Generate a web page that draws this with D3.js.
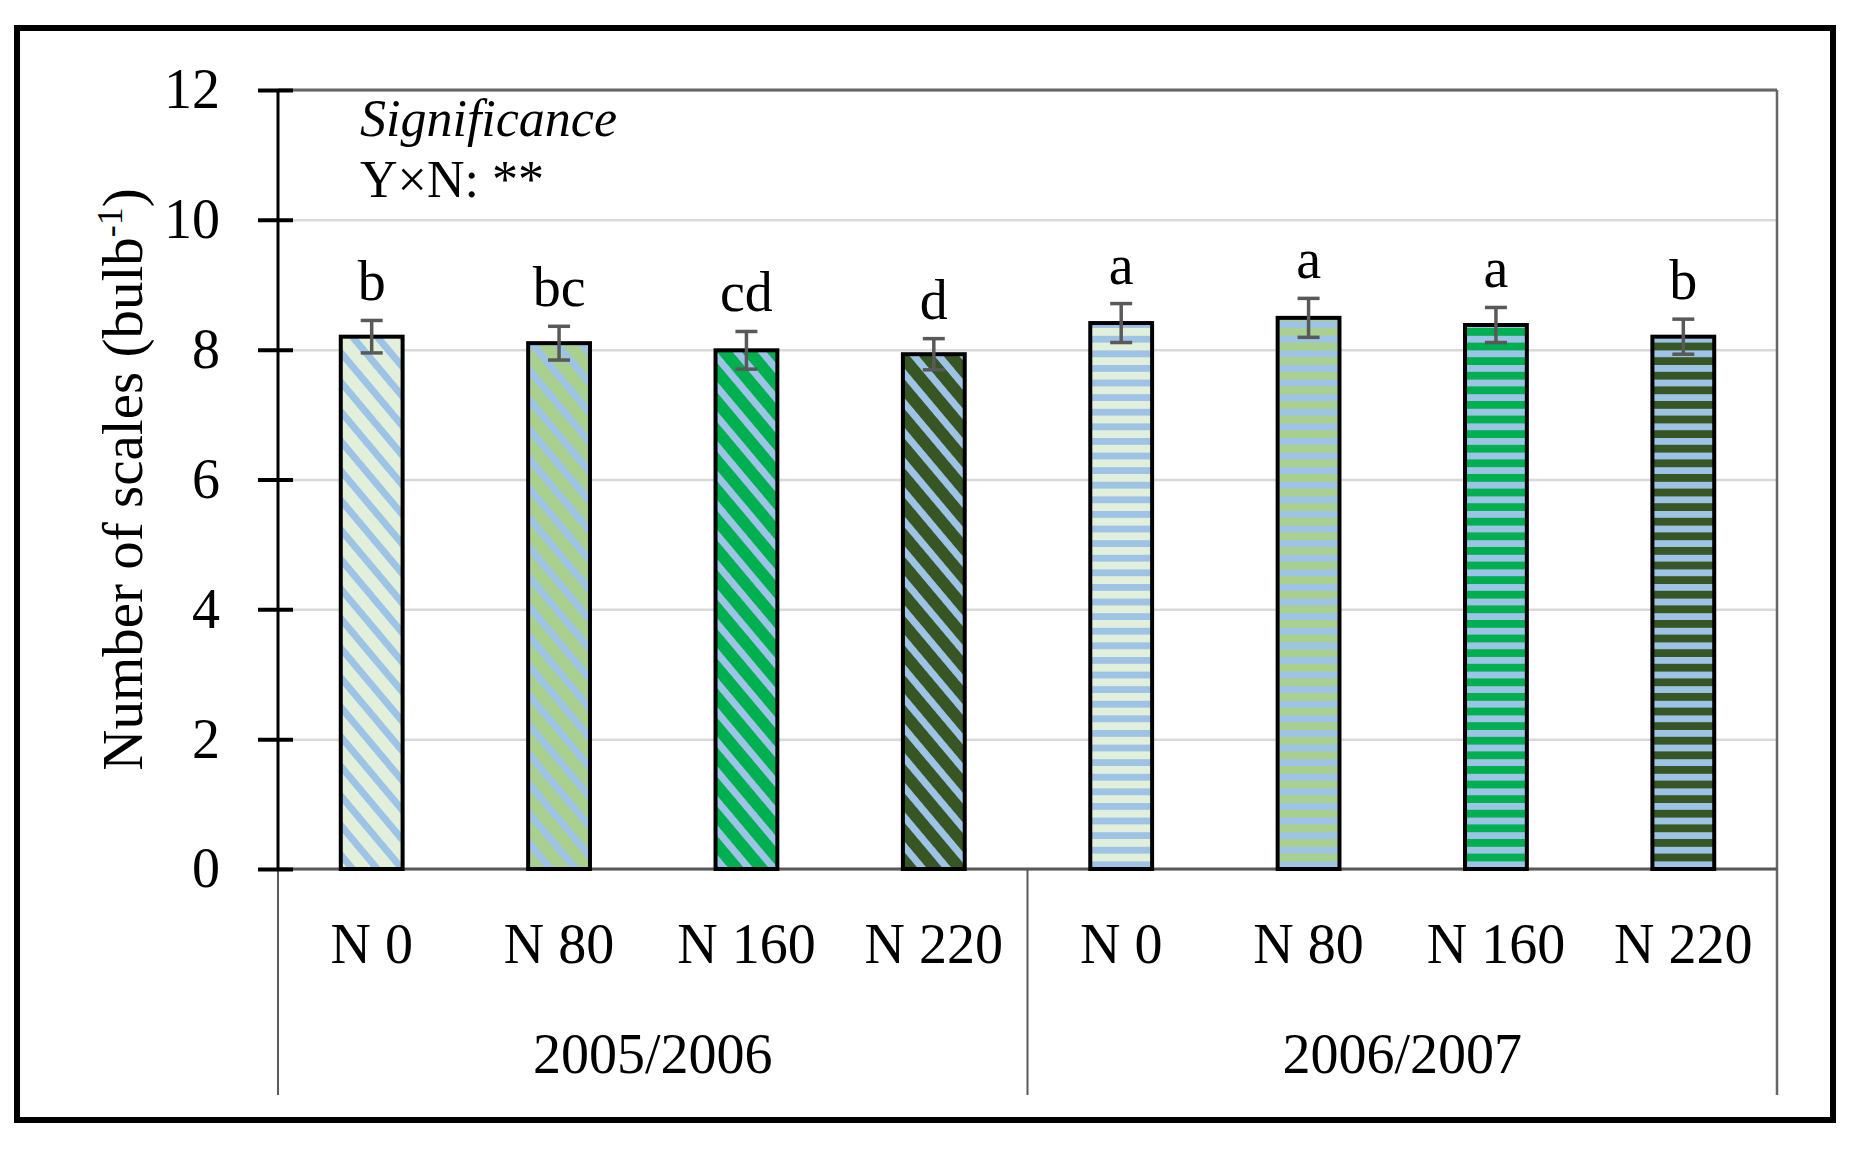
<!DOCTYPE html>
<meta charset="utf-8">
<head>
    <title>Number of scales</title>
    <script src="https://cdn.jsdelivr.net/npm/d3@7/dist/d3.min.js"></script>
</head>

<style>
    body { margin: 0; background: #fff; }
    text { font-family: "Palatino Linotype", "Book Antiqua", Palatino, "Liberation Serif", serif; fill: #000; }
</style>

<svg></svg>

<script>
    var vWidth = 1860;
    var vHeight = 1154;

    // data
    var years = ["2005/2006", "2006/2007"];
    var doses = ["N 0", "N 80", "N 160", "N 220"];
    var scales0506 = [8.20, 8.10, 7.99, 7.93];
    var scales0607 = [8.41, 8.49, 8.38, 8.20];
    var err0506 = [0.25, 0.26, 0.29, 0.24];
    var err0607 = [0.30, 0.30, 0.27, 0.27];
    var letters0506 = ["b", "bc", "cd", "d"];
    var letters0607 = ["a", "a", "a", "b"];
    var yTicks = [0, 2, 4, 6, 8, 10, 12];

    var doseColors = ["#E2EFDA", "#A9D08E", "#00B050", "#375623"];
    var stripeBlue = "#9DC3E6";

    var rows = [];
    years.forEach(function (yr, yi) {
        var vals = yi === 0 ? scales0506 : scales0607;
        var errs = yi === 0 ? err0506 : err0607;
        var lets = yi === 0 ? letters0506 : letters0607;
        doses.forEach(function (d, di) {
            rows.push({key: yr + "|" + d, year: yr, yi: yi, dose: d, di: di,
                value: vals[di], err: errs[di], letter: lets[di]});
        });
    });

    // physical space setup
    var svg = d3.select('svg').attr('width', vWidth).attr('height', vHeight);
    var pLeft = 278, pRight = 1777, pTop = 90, pBottom = 869, tableBottom = 1095;

    var x = d3.scaleBand().domain(rows.map(function (d) { return d.key; }))
        .range([pLeft, pRight]).paddingInner(0.67).paddingOuter(0.335);
    var step = x.step();
    var y = d3.scaleLinear().domain([0, 12]).range([pBottom, pTop]);

    // patterns: diagonal for the first season, horizontal for the second
    var defs = svg.append('defs');
    rows.forEach(function (d, i) {
        var p = defs.append('pattern').attr('id', 'pat' + i)
            .attr('patternUnits', 'userSpaceOnUse');
        if (d.yi === 0) {
            p.attr('width', 19).attr('height', 19).attr('patternTransform', 'rotate(50)');
            p.append('rect').attr('width', 19).attr('height', 19).attr('fill', doseColors[d.di]);
            p.append('rect').attr('width', 19).attr('height', 7).attr('fill', stripeBlue);
        } else {
            p.attr('width', 20).attr('height', 14.6);
            p.append('rect').attr('width', 20).attr('height', 14.6).attr('fill', doseColors[d.di]);
            p.append('rect').attr('width', 20).attr('height', 6.8).attr('fill', stripeBlue);
        }
    });

    // outer frame
    svg.append('rect').attr('x', 17).attr('y', 28).attr('width', 1816).attr('height', 1092)
        .attr('fill', 'none').attr('stroke', '#000').attr('stroke-width', 6);

    // gridlines
    svg.append('g').attr('transform', 'translate(' + pLeft + ',0)')
        .call(d3.axisLeft(y).tickValues(yTicks).tickSize(-(pRight - pLeft)).tickFormat(''))
        .call(function (g) {
            g.select('.domain').remove();
            g.selectAll('line').attr('stroke', '#d9d9d9').attr('stroke-width', 2.5);
        });

    // top and right borders, category table lines
    svg.append('line').attr('x1', pLeft).attr('x2', pRight).attr('y1', pTop).attr('y2', pTop)
        .attr('stroke', '#666').attr('stroke-width', 3);
    svg.append('line').attr('x1', pRight).attr('x2', pRight).attr('y1', pTop).attr('y2', tableBottom)
        .attr('stroke', '#666').attr('stroke-width', 2.5);
    svg.append('line').attr('x1', pLeft).attr('x2', pRight).attr('y1', pBottom).attr('y2', pBottom)
        .attr('stroke', '#595959').attr('stroke-width', 3);
    [pLeft, x(rows[4].key) - (step - x.bandwidth()) / 2].forEach(function (xx) {
        svg.append('line').attr('x1', xx).attr('x2', xx).attr('y1', pBottom).attr('y2', tableBottom)
            .attr('stroke', '#595959').attr('stroke-width', 2);
    });

    // bars
    svg.append('g').selectAll('rect').data(rows).enter().append('rect')
        .attr('x', function (d) { return x(d.key); })
        .attr('width', x.bandwidth())
        .attr('y', function (d) { return y(d.value); })
        .attr('height', function (d) { return y(0) - y(d.value); })
        .attr('fill', function (d, i) { return 'url(#pat' + i + ')'; })
        .attr('stroke', '#000').attr('stroke-width', 4);

    // error bars
    var eb = svg.append('g').attr('stroke', '#595959').attr('stroke-width', 3.5);
    rows.forEach(function (d) {
        var cx = x(d.key) + x.bandwidth() / 2;
        var y1 = y(d.value + d.err), y2 = y(d.value - d.err);
        eb.append('line').attr('x1', cx).attr('x2', cx).attr('y1', y1).attr('y2', y2);
        eb.append('line').attr('x1', cx - 11).attr('x2', cx + 11).attr('y1', y1).attr('y2', y1);
        eb.append('line').attr('x1', cx - 11).attr('x2', cx + 11).attr('y1', y2).attr('y2', y2);
    });

    // significance letters
    svg.append('g').selectAll('text').data(rows).enter().append('text')
        .attr('x', function (d) { return x(d.key) + x.bandwidth() / 2; })
        .attr('y', function (d) { return y(d.value + d.err) - 20; })
        .attr('text-anchor', 'middle').attr('font-size', 56)
        .text(function (d) { return d.letter; });

    // y axis
    svg.append('g').attr('transform', 'translate(' + pLeft + ',0)')
        .call(d3.axisLeft(y).tickValues(yTicks).tickSize(20).tickPadding(38))
        .call(function (g) {
            g.select('.domain').attr('stroke', '#000').attr('stroke-width', 3).attr('d', 'M0,' + pTop + 'V' + pBottom);
            g.selectAll('.tick line').attr('stroke', '#000').attr('stroke-width', 4)
                .attr('x1', 15).attr('x2', -20);
            g.selectAll('.tick text').attr('font-size', 56)
                .attr('font-family', '"Liberation Serif", serif').attr('fill', '#000');
        });

    // category labels
    svg.append('g').selectAll('text').data(rows).enter().append('text')
        .attr('x', function (d) { return x(d.key) + x.bandwidth() / 2; })
        .attr('y', 963).attr('text-anchor', 'middle').attr('font-size', 56)
        .text(function (d) { return d.dose; });
    svg.append('g').selectAll('text').data(years).enter().append('text')
        .attr('x', function (d, i) {
            var a = x(rows[i * 4].key), b = x(rows[i * 4 + 3].key) + x.bandwidth();
            return (a + b) / 2;
        })
        .attr('y', 1073).attr('text-anchor', 'middle').attr('font-size', 56)
        .text(function (d) { return d; });

    // y axis title
    var title = svg.append('text').attr('font-size', 57).attr('text-anchor', 'middle')
        .attr('transform', 'translate(142,' + (pTop + pBottom) / 2 + ') rotate(-90)');
    title.append('tspan').text('Number of scales (bulb');
    title.append('tspan').attr('font-size', 36).attr('dy', -20).text('-1');
    title.append('tspan').attr('dy', 20).text(')');

    // significance note
    svg.append('text').attr('x', 360).attr('y', 136).attr('font-size', 52)
        .attr('font-style', 'italic').text('Significance');
    svg.append('text').attr('x', 360).attr('y', 197).attr('font-size', 52)
        .text('Y×N: **');
</script>
